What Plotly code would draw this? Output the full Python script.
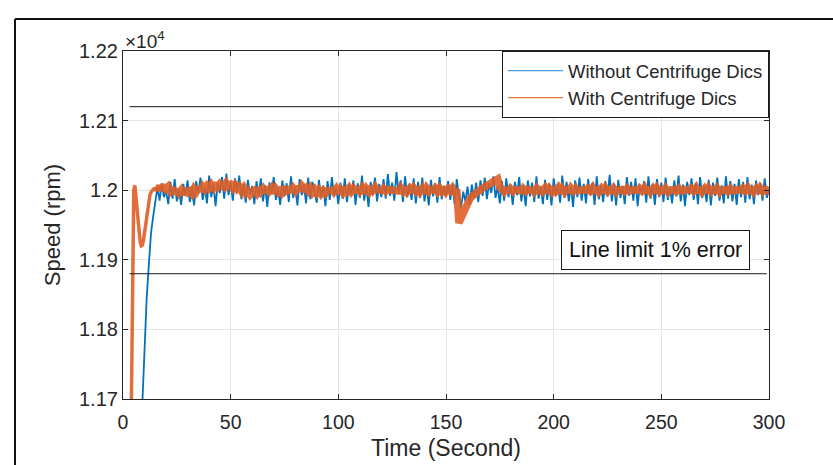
import numpy as np
import plotly.graph_objects as go

# ---------------- data ----------------
# Speed without centrifuge disc, sampled every 1 s (0..300 s)
time_blue = np.arange(0, 301)
speed_without = [
    10650, 10820, 10980, 11120, 11250, 11360, 11460, 11545, 11620,
    11695, 11775, 11845, 11893, 11938, 11962, 11985,
    12004, 11985, 12010, 11990, 11999, 11980, 12012, 11988, 12016, 11984, 12001, 11979, 12009, 11992, 12014,
    11983, 12006, 11978, 12013, 11995, 12018, 11986, 12004, 11981, 12021, 11990, 12008, 11977, 12011, 11996,
    12019, 11988, 12024, 11993, 12012, 11985, 12017, 11998, 12021, 11987, 12009, 11982, 12015, 11994, 12006,
    11980, 12013, 11990, 12017, 11984, 12007, 11976, 12011, 11995, 12019, 11986, 12003, 11979, 12014, 11991,
    12010, 11983, 12020, 11989, 12005, 11978, 12016, 11993, 12009, 11981, 12018, 11987, 12012, 11996, 11982,
    12015, 11990, 12007, 11977, 12013, 11986, 12019, 11992, 12004, 11980, 12011, 11988, 12017, 11983, 12008,
    11994, 12014, 11979, 12010, 11989, 12021, 11985, 12006, 11976, 12012, 11993, 12018, 11984, 12009, 11990,
    12016, 11988, 12023, 11992, 12011, 11985, 12026, 11995, 12014, 11983, 12020, 11990, 12009, 11986, 12017,
    11981, 12012, 11989, 12018, 11984, 12007, 11978, 12015, 11991, 12010, 11982, 12019, 11987, 12006, 11993,
    12013, 11986, 12009, 11980, 12016, 11990, 11975, 11998, 11984, 12005, 11979, 12008, 11988, 12011, 11983,
    12014, 11992, 12018, 11987, 12010, 11996, 12020, 11989, 12005, 11981, 12013, 11985, 12017, 11990, 12008,
    11979, 12012, 11993, 12019, 11984, 12006, 11977, 12014, 11991, 12011, 11983, 12020, 11988, 12005, 11980,
    12015, 11986, 12010, 11978, 12017, 11992, 12008, 11982, 12021, 11989, 12012, 11984, 12006, 11976, 12014,
    11990, 12018, 11985, 12009, 11981, 12016, 11993, 12011, 11979, 12020, 11987, 12007, 11983, 12013, 11991,
    12022, 11984, 12010, 11978, 12015, 11989, 12006, 11980, 12019, 11992, 12012, 11985, 12017, 11977, 12008,
    11994, 12013, 11982, 12020, 11988, 12009, 11979, 12016, 11990, 12011, 11983, 12018, 11986, 12005, 11981,
    12014, 11991, 12021, 11984, 12008, 11977, 12012, 11993, 12017, 11986, 12010, 11980, 12019, 11989, 12006,
    11983, 12015, 11978, 12011, 11992, 12018, 11985, 12007, 11981, 12020, 11988, 12013, 11984, 12009, 11979,
    12016, 11990, 12012, 11982, 12019, 11987, 12008, 11980, 12014, 11993, 12010, 11985, 12017, 11989, 12004,
]

# Speed with centrifuge disc: 0.5 s samples during start-up, then 1 s samples
time_orange = np.concatenate([np.arange(3.0, 16.5, 0.5), np.arange(17, 301)])
speed_with = [
    11450, 11620, 11780, 11930, 12000, 12007, 11990, 11968, 11950, 11935, 11925, 11920, 11921, 11928,
    11940, 11953, 11966, 11977, 11986, 11993, 11997, 12000, 12001, 12003, 11999, 12004, 11999,
    12006, 12001, 12007, 12002, 12005, 11999, 12003, 11995, 12001, 11996, 12000, 11994, 12002, 11997, 11999,
    11995, 12002, 11998, 12004, 11999, 12005, 12001, 12006, 12003, 12008, 12004, 12010, 12005, 12009, 12006,
    12004, 12010, 12006, 12008, 12003, 12007, 12002, 12005, 11999, 12003, 11996, 11999, 11994, 11998, 12000,
    11996, 12003, 11998, 12002, 11997, 12004, 11999, 12003, 11996, 12002, 11998, 12004, 11997, 12001, 11999,
    12004, 11998, 12003, 11999, 12005, 12000, 12006, 12002, 12004, 11999, 12003, 11997, 12001, 11996, 12000,
    11995, 11999, 11996, 12002, 11997, 12003, 11998, 12002, 11996, 12001, 11997, 12004, 11999, 12003, 11998,
    12002, 11997, 12004, 11999, 12003, 11996, 12002, 11998, 12005, 12000, 12004, 11998, 12003, 11997, 12002,
    11999, 12004, 11998, 12003, 11997, 12002, 11996, 12003, 11999, 12004, 11998, 12002, 11997, 12003, 11999,
    12004, 11998, 12002, 11996, 12003, 11999, 12004, 11997, 12002, 11998, 12003, 11999, 12004, 11998, 12002,
    11999, 12003, 11998, 12001, 11953, 11961, 11969, 11976, 11982, 11987, 11991, 11994, 11997, 11999, 12001,
    12003, 12005, 12007, 12009, 12011, 12013, 12015, 12016, 12004, 12001, 11998, 12003, 11997, 12002, 11999,
    12004, 11998, 12003, 11996, 12002, 11999, 12004, 11997, 12003, 11998, 12002, 11996, 12004, 11999, 12003,
    11997, 12002, 11998, 12004, 11999, 12003, 11996, 12002, 11998, 12004, 11997, 12003, 11999, 12002, 11996,
    12003, 11998, 12004, 11997, 12002, 11999, 12003, 11996, 12004, 11998, 12002, 11997, 12003, 11999, 12004,
    11996, 12002, 11998, 12003, 11997, 12004, 11999, 12002, 11996, 12003, 11998, 12004, 11997, 12002, 11999,
    12003, 11996, 12004, 11998, 12002, 11997, 12003, 11999, 12004, 11996, 12002, 11998, 12003, 11997, 12004,
    11999, 12002, 11996, 12003, 11998, 12004, 11997, 12002, 11999, 12003, 11996, 12004, 11998, 12002, 11997,
    12003, 11999, 12004, 11996, 12002, 11998, 12003, 11997, 12004, 11999, 12002, 11996, 12003, 11998, 12004,
    11997, 12002, 11999, 12003, 11996, 12004, 11998, 12002, 11997, 12003, 11999, 12004, 11996, 12001,
]

# 1 % error band around the 12000 rpm set point
set_point = 12000
limit_upper = set_point * 1.01
limit_lower = set_point * 0.99
limit_time = [3, 299]

y_tick_vals = [11700, 11800, 11900, 12000, 12100, 12200]
y_tick_text = ["1.17", "1.18", "1.19", "1.2", "1.21", "1.22"]
x_tick_vals = [0, 50, 100, 150, 200, 250, 300]

assert len(time_blue) == len(speed_without)
assert len(time_orange) == len(speed_with)

BLUE = "#0072BD"
ORANGE = "#DF5F26"
TXT = "#262626"
FONT = "Liberation Sans"

fig = go.Figure()

fig.add_trace(go.Scatter(x=time_blue, y=speed_without, mode="lines",
                         line=dict(color=BLUE, width=1.8), showlegend=False,
                         hoverinfo="skip"))

# the start-up transient reads as a thin stroke, the noisy steady state as a thick band
n_start = 27
fig.add_trace(go.Scatter(x=time_orange[:n_start + 1], y=speed_with[:n_start + 1], mode="lines",
                         line=dict(color=ORANGE, width=3.5), opacity=0.9,
                         showlegend=False, hoverinfo="skip"))
fig.add_trace(go.Scatter(x=time_orange[n_start - 1:], y=speed_with[n_start - 1:], mode="lines",
                         line=dict(color=ORANGE, width=7.5), opacity=0.9,
                         showlegend=False, hoverinfo="skip"))

# limit lines
for lv in (limit_upper, limit_lower):
    fig.add_trace(go.Scatter(x=limit_time, y=[lv, lv], mode="lines",
                             line=dict(color="#1a1a1a", width=1),
                             showlegend=False, hoverinfo="skip"))

# thin legend entries
fig.add_trace(go.Scatter(x=[None], y=[None], mode="lines", name="Without Centrifuge Dics",
                         line=dict(color="#4a9fd8", width=1.2)))
fig.add_trace(go.Scatter(x=[None], y=[None], mode="lines", name="With Centrifuge Dics",
                         line=dict(color="#e07848", width=1.2)))

fig.update_layout(
    width=833, height=465,
    margin=dict(l=123, r=64, t=51, b=66),
    paper_bgcolor="white", plot_bgcolor="white",
    font=dict(family=FONT, color=TXT, size=17),
    legend=dict(x=1, y=1, xanchor="right", yanchor="top",
                bgcolor="white", bordercolor="#1a1a1a", borderwidth=1,
                font=dict(size=18.5, color=TXT), tracegroupgap=0,
                itemwidth=55),
    xaxis=dict(range=[0, 300], tickvals=x_tick_vals, ticks="inside", ticklen=5,
               tickcolor=TXT, showline=True, linecolor=TXT, linewidth=1.2,
               mirror="allticks", showgrid=True, gridcolor="#e5e5e5", gridwidth=1,
               zeroline=False, tickfont=dict(size=19.5, color=TXT),
               ticklabelstandoff=5, automargin=False,
               title=dict(text="Time (Second)", font=dict(size=23, color=TXT), standoff=8)),
    yaxis=dict(range=[11700, 12200], tickvals=y_tick_vals, ticktext=y_tick_text,
               ticks="inside", ticklen=5, tickcolor=TXT, showline=True,
               linecolor=TXT, linewidth=1.2, mirror="allticks", showgrid=True,
               gridcolor="#e5e5e5", gridwidth=1, zeroline=False,
               tickfont=dict(size=20, color=TXT), automargin=False,
               title=dict(text="Speed (rpm)", font=dict(size=22, color=TXT), standoff=12)),
)

# exponent label above the y axis
fig.add_annotation(x=0, y=1, xref="paper", yref="paper", xanchor="left", yanchor="bottom",
                   xshift=0, yshift=-3, showarrow=False,
                   text="×10<sup>4</sup>", font=dict(size=19, color=TXT))

# text box for the limit lines
fig.add_annotation(x=0.825, y=0.428, xref="paper", yref="paper", xanchor="center", yanchor="middle",
                   showarrow=False, text="Line limit 1% error",
                   font=dict(size=21.5, color="#111111"),
                   bordercolor="#1a1a1a", borderwidth=1, borderpad=7, bgcolor="white")

# outer figure frame
fig.add_shape(type="line", xref="paper", yref="paper",
              x0=(15 - 123) / 646, x1=(833 - 123) / 646,
              y0=(399 - 19) / 348, y1=(399 - 19) / 348,
              line=dict(color="#111111", width=2))
fig.add_shape(type="line", xref="paper", yref="paper",
              x0=(15 - 123) / 646, x1=(15 - 123) / 646,
              y0=(399 - 19) / 348, y1=(399 - 470) / 348,
              line=dict(color="#111111", width=2))

fig.write_html("out.html")
